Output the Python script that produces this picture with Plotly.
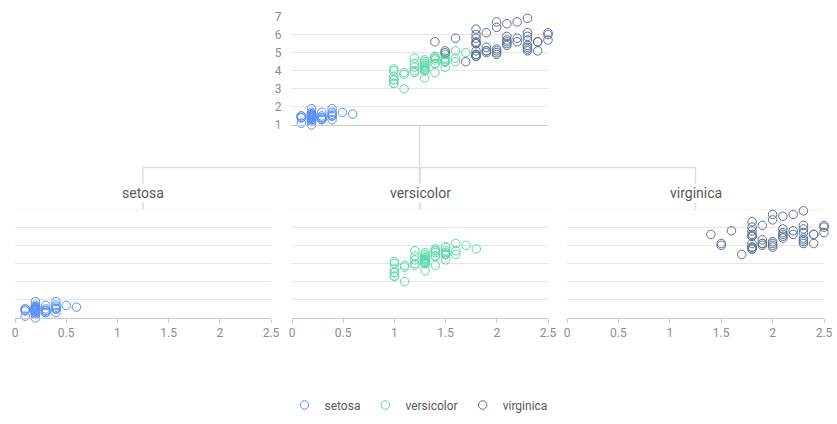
import plotly.graph_objects as go

W, H = 837, 424

species = ["setosa", "versicolor", "virginica"]
colors = {"setosa": "#5B8FF9", "versicolor": "#5AD8A6", "virginica": "#5D7092"}

# iris petal width / petal length
setosa_w = [0.2, 0.2, 0.2, 0.2, 0.2, 0.4, 0.3, 0.2, 0.2, 0.1, 0.2, 0.2, 0.1, 0.1, 0.2, 0.4, 0.4, 0.3, 0.3, 0.3,
            0.2, 0.4, 0.2, 0.5, 0.2, 0.2, 0.4, 0.2, 0.2, 0.2, 0.2, 0.4, 0.1, 0.2, 0.2, 0.2, 0.2, 0.1, 0.2, 0.2,
            0.3, 0.3, 0.2, 0.6, 0.4, 0.3, 0.2, 0.2, 0.2, 0.2]
setosa_l = [1.4, 1.4, 1.3, 1.5, 1.4, 1.7, 1.4, 1.5, 1.4, 1.5, 1.5, 1.6, 1.4, 1.1, 1.2, 1.5, 1.3, 1.4, 1.7, 1.5,
            1.7, 1.5, 1.0, 1.7, 1.9, 1.6, 1.6, 1.5, 1.4, 1.6, 1.6, 1.5, 1.5, 1.4, 1.5, 1.2, 1.3, 1.4, 1.3, 1.5,
            1.3, 1.3, 1.3, 1.6, 1.9, 1.4, 1.6, 1.4, 1.5, 1.4]
versicolor_w = [1.4, 1.5, 1.5, 1.3, 1.5, 1.3, 1.6, 1.0, 1.3, 1.4, 1.0, 1.5, 1.0, 1.4, 1.3, 1.4, 1.5, 1.0, 1.5, 1.1,
                1.8, 1.3, 1.5, 1.2, 1.3, 1.4, 1.4, 1.7, 1.5, 1.0, 1.1, 1.0, 1.2, 1.6, 1.5, 1.6, 1.5, 1.3, 1.3, 1.3,
                1.2, 1.4, 1.2, 1.0, 1.3, 1.2, 1.3, 1.3, 1.1, 1.3]
versicolor_l = [4.7, 4.5, 4.9, 4.0, 4.6, 4.5, 4.7, 3.3, 4.6, 3.9, 3.5, 4.2, 4.0, 4.7, 3.6, 4.4, 4.5, 4.1, 4.5, 3.9,
                4.8, 4.0, 4.9, 4.7, 4.3, 4.4, 4.8, 5.0, 4.5, 3.5, 3.8, 3.7, 3.9, 5.1, 4.5, 4.5, 4.7, 4.4, 4.1, 4.0,
                4.4, 4.6, 4.0, 3.3, 4.2, 4.2, 4.2, 4.3, 3.0, 4.1]
virginica_w = [2.5, 1.9, 2.1, 1.8, 2.2, 2.1, 1.7, 1.8, 1.8, 2.5, 2.0, 1.9, 2.1, 2.0, 2.4, 2.3, 1.8, 2.2, 2.3, 1.5,
               2.3, 2.0, 2.0, 1.8, 2.1, 1.8, 1.8, 1.8, 2.1, 1.6, 1.9, 2.0, 2.2, 1.5, 1.4, 2.3, 2.4, 1.8, 1.8, 2.1,
               2.4, 2.3, 1.9, 2.3, 2.5, 2.3, 1.9, 2.0, 2.3, 1.8]
virginica_l = [6.0, 5.1, 5.9, 5.6, 5.8, 6.6, 4.5, 6.3, 5.8, 6.1, 5.1, 5.3, 5.5, 5.0, 5.1, 5.3, 5.5, 6.7, 6.9, 5.0,
               5.7, 4.9, 6.7, 4.9, 5.7, 6.0, 4.8, 4.9, 5.6, 5.8, 6.1, 6.4, 5.6, 5.1, 5.6, 6.1, 5.6, 5.5, 4.8, 5.4,
               5.6, 5.1, 5.1, 5.9, 5.7, 5.2, 5.0, 5.2, 5.4, 5.1]

data = {
    "setosa": (setosa_w, setosa_l),
    "versicolor": (versicolor_w, versicolor_l),
    "virginica": (virginica_w, virginica_l),
}

x_range = [0, 2.5]
y_range = [1, 7]
x_ticks = [0, 0.5, 1, 1.5, 2, 2.5]
x_ticktext = ["0", "0.5", "1", "1.5", "2", "2.5"]
y_ticks = [1, 2, 3, 4, 5, 6, 7]

# pixel boxes -> paper domains
def dx(a, b):
    return [a / W, b / W]

def dy(top, bottom):
    return [1 - bottom / H, 1 - top / H]

top_x, top_y = dx(291, 548), dy(16.5, 125)
bot_y = dy(209, 318)
bot_x = [dx(15, 271), dx(292, 548), dx(567, 824)]

GRID = "#e6e6e6"
AXIS = "#c8c8c8"
TICKF = dict(family="Roboto", size=12, color="#8c8c8c")
MARKER_SIZE = 8.5

fig = go.Figure()

for s in species:
    w, l = data[s]
    fig.add_trace(go.Scatter(
        x=w, y=l, mode="markers", name=s, legendgroup=s,
        marker=dict(symbol="circle-open", size=MARKER_SIZE, color=colors[s], line=dict(width=1)),
        cliponaxis=False, xaxis="x", yaxis="y",
    ))

for i, s in enumerate(species):
    w, l = data[s]
    fig.add_trace(go.Scatter(
        x=w, y=l, mode="markers", name=s, legendgroup=s, showlegend=False,
        marker=dict(symbol="circle-open", size=MARKER_SIZE, color=colors[s], line=dict(width=1)),
        cliponaxis=False, xaxis=f"x{i + 2}", yaxis=f"y{i + 2}",
    ))

layout = dict(
    width=W, height=H, autosize=False,
    margin=dict(l=0, r=0, t=0, b=0, pad=0, autoexpand=False),
    paper_bgcolor="white", plot_bgcolor="rgba(0,0,0,0)",
    font=dict(family="Roboto", size=12, color="#595959"),
    showlegend=True,
    legend=dict(orientation="h", x=0.5, xanchor="center", y=1 - 405 / H, yanchor="middle",
                font=dict(family="Roboto", size=12, color="#595959"), itemsizing="trace"),
)

layout["xaxis"] = dict(domain=top_x, range=x_range, showticklabels=False, showgrid=False, zeroline=False,
                       showline=True, linecolor=AXIS, linewidth=1, anchor="y", automargin=False)
layout["yaxis"] = dict(domain=top_y, range=y_range, tickvals=y_ticks, showgrid=True, gridcolor=GRID,
                       zeroline=False, showline=False, tickfont=TICKF, ticks="outside", ticklen=6,
                       tickcolor="rgba(0,0,0,0)", anchor="x", automargin=False)

for i in range(3):
    n = i + 2
    layout[f"xaxis{n}"] = dict(domain=bot_x[i], range=x_range, tickvals=x_ticks, ticktext=x_ticktext,
                               showgrid=False, zeroline=False, showline=True, linecolor=AXIS, linewidth=1,
                               ticks="outside", ticklen=4, tickcolor=AXIS, tickfont=TICKF, anchor=f"y{n}",
                               automargin=False)
    layout[f"yaxis{n}"] = dict(domain=bot_y, range=y_range, tickvals=y_ticks, showticklabels=False,
                               showgrid=True, gridcolor=GRID, zeroline=False, showline=False, anchor=f"x{n}",
                               automargin=False)

fig.update_layout(**layout)

# tree connector lines from the overview to the three facets
top_cx = (top_x[0] + top_x[1]) / 2
centers = [(d[0] + d[1]) / 2 for d in bot_x]
mid_y = 1 - 167.5 / H
LINE = dict(color="#dddddd", width=1.5)
shapes = [
    dict(type="line", xref="paper", yref="paper", x0=top_cx, x1=top_cx, y0=top_y[0], y1=bot_y[1], line=LINE, layer="below"),
    dict(type="line", xref="paper", yref="paper", x0=centers[0], x1=centers[2], y0=mid_y, y1=mid_y, line=LINE, layer="below"),
]
for c in centers:
    shapes.append(dict(type="line", xref="paper", yref="paper", x0=c, x1=c, y0=mid_y, y1=bot_y[1], line=LINE, layer="below"))
# top gridline of each facet (plotly drops it at the range edge)
for i in range(3):
    n = i + 2
    shapes.append(dict(type="line", xref=f"x{n} domain", yref=f"y{n}", x0=0, x1=1, y0=y_ticks[-1], y1=y_ticks[-1],
                       line=dict(color=GRID, width=1), layer="below"))
fig.update_layout(shapes=shapes)

for c, s in zip(centers, species):
    fig.add_annotation(x=c, y=1 - 193 / H, xref="paper", yref="paper", text=s, showarrow=False,
                       font=dict(family="Roboto", size=14, color="#595959"), bgcolor="white",
                       xanchor="center", yanchor="middle")

fig.write_html("out.html", config={"displayModeBar": False},
               post_script="document.body.style.margin='0';")
